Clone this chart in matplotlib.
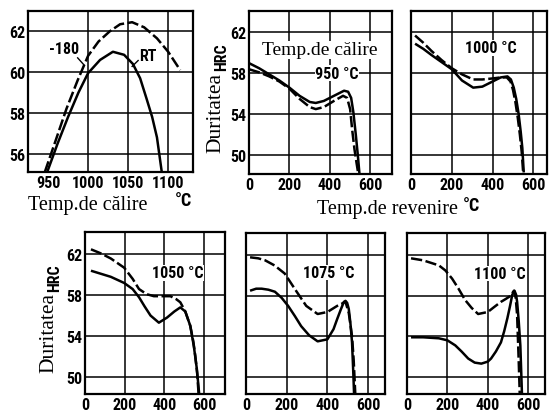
import matplotlib
matplotlib.use("Agg")
import matplotlib.pyplot as plt
from matplotlib import font_manager as fm

W, H = 549, 414
fig = plt.figure(figsize=(W / 100, H / 100), dpi=100)

SERIF = ['Liberation Serif', 'DejaVu Serif']


def find_narrow():
    cands = [('Roboto Condensed', 'normal'), ('Liberation Sans Narrow', 'normal'),
             ('Open Sans Condensed', 'normal'), ('Noto Sans', 'condensed'),
             ('DejaVu Sans', 'condensed'), ('Open Sans', 'condensed'),
             ('Roboto', 'condensed')]
    for fam, st in cands:
        try:
            path = fm.findfont(fm.FontProperties(family=fam, stretch=st, weight='bold'),
                               fallback_to_default=False)
        except Exception:
            continue
        low = path.lower()
        if 'condens' in low or 'narrow' in low:
            return path
    return None


NARROW_PATH = find_narrow()


def nfont(size):
    if NARROW_PATH:
        p = fm.FontProperties(fname=NARROW_PATH)
        p.set_size(size)
    else:
        p = fm.FontProperties(family='DejaVu Sans', weight='bold')
        p.set_size(size * 0.82)
    return p


TICK_SIZE = 11.5
LABEL_SIZE = 11.5

# ---------------- data ----------------
# Panel 1: hardness vs. hardening temperature
p1_x_dash = [946, 960, 973, 987, 1000, 1013, 1027, 1040, 1055, 1070, 1086, 1100, 1115]
p1_y_dash = [55.1, 56.7, 58.2, 59.6, 60.8, 61.5, 62.0, 62.35, 62.45, 62.2, 61.66, 61.0, 60.1]
p1_x_solid = [949, 962, 975, 988, 1000, 1015, 1031, 1045, 1056, 1065, 1073, 1080, 1086, 1092]
p1_y_solid = [55.1, 56.5, 57.8, 59.0, 59.95, 60.6, 61.0, 60.85, 60.4, 59.7, 58.7, 57.8, 56.8, 55.1]
p1_xticks = [950, 1000, 1050, 1100]
p1_yticks = [56, 58, 60, 62]

# Panels 2-6: hardness vs. tempering temperature
t_ticks = [0, 200, 400, 600]
hrc_ticks = [50, 54, 58, 62]

p2_x_solid = [0, 50, 100, 150, 200, 250, 300, 330, 370, 420, 470, 490, 505, 516, 528, 538, 546]
p2_y_solid = [59.0, 58.5, 57.9, 57.3, 56.6, 55.8, 55.2, 55.1, 55.3, 55.8, 56.3, 56.2, 55.6, 54.2, 52.0, 50.0, 48.2]
p2_x_dash = [0, 50, 100, 150, 200, 250, 300, 330, 370, 420, 465, 485, 500, 510, 522, 532, 540]
p2_y_dash = [58.4, 58.1, 57.7, 57.2, 56.5, 55.5, 54.7, 54.5, 54.7, 55.3, 55.8, 55.6, 54.5, 52.5, 50.5, 49.2, 48.2]

p3_x_solid = [20, 60, 100, 150, 200, 250, 305, 350, 400, 440, 473, 490, 504, 516, 528, 538, 546, 553]
p3_y_solid = [60.9, 60.4, 59.8, 59.1, 58.4, 57.3, 56.6, 56.7, 57.2, 57.6, 57.7, 57.4, 56.6, 55.5, 54.0, 52.3, 50.7, 48.3]
p3_x_dash = [20, 60, 100, 150, 200, 250, 305, 350, 400, 440, 470, 488, 500, 512, 524, 534, 543, 550]
p3_y_dash = [61.7, 61.0, 60.2, 59.3, 58.5, 57.9, 57.4, 57.4, 57.5, 57.6, 57.6, 57.2, 56.4, 55.2, 53.6, 52.0, 50.3, 48.3]

p4_x_solid = [30, 80, 130, 197, 240, 272, 300, 330, 372, 413, 450, 480, 505, 530, 548, 563, 575]
p4_y_solid = [60.4, 60.1, 59.8, 59.2, 58.6, 57.8, 56.9, 56.0, 55.3, 55.8, 56.4, 56.8, 56.4, 55.0, 53.0, 50.8, 48.3]
p4_x_dash = [30, 80, 130, 197, 240, 272, 310, 347, 390, 430, 460, 480, 505, 530, 545, 555, 565, 572]
p4_y_dash = [62.5, 62.1, 61.6, 60.7, 59.6, 58.6, 58.1, 57.9, 57.9, 57.9, 57.6, 57.3, 56.4, 55.0, 53.5, 52.1, 50.3, 48.3]

p5_x_solid = [20, 50, 77, 110, 142, 175, 207, 240, 271, 310, 352, 400, 430, 448, 465, 481, 489, 497, 505, 513, 521, 527, 531]
p5_y_solid = [58.5, 58.7, 58.7, 58.6, 58.4, 57.8, 57.0, 56.0, 55.0, 54.1, 53.5, 53.7, 54.7, 55.7, 56.6, 57.4, 57.5, 57.3, 56.7, 55.3, 53.4, 50.5, 48.3]
p5_x_dash = [20, 60, 94, 140, 190, 239, 296, 352, 400, 448, 489, 505, 521, 529, 537]
p5_y_dash = [61.8, 61.7, 61.5, 61.0, 60.2, 58.7, 57.0, 56.2, 56.4, 57.0, 57.4, 56.3, 54.0, 51.7, 48.3]

p6_x_solid = [20, 80, 158, 200, 239, 270, 303, 335, 368, 400, 416, 440, 465, 481, 497, 510, 521, 532, 540, 545, 553, 561, 569]
p6_y_solid = [53.9, 53.9, 53.8, 53.6, 53.1, 52.5, 51.8, 51.4, 51.3, 51.5, 51.8, 52.5, 53.4, 54.5, 55.8, 57.0, 58.1, 58.5, 58.1, 57.4, 55.5, 53.1, 48.3]
p6_x_dash = [20, 80, 158, 190, 223, 255, 287, 320, 352, 400, 432, 465, 490, 513, 529, 538, 545, 553, 558]
p6_y_dash = [61.7, 61.5, 61.0, 60.5, 59.7, 58.7, 57.6, 56.8, 56.2, 56.4, 56.9, 57.4, 57.7, 58.0, 58.5, 57.8, 56.1, 51.5, 48.3]

panel_labels = ["950 °C", "1000 °C", "1050 °C", "1075 °C", "1100 °C"]


# ---------------- helpers ----------------
def fpos(left, top, right, bottom):
    return [left / W, 1 - bottom / H, (right - left) / W, (bottom - top) / H]


def px(x, y):
    return x / W, 1 - y / H


def make_ax(rect, xlim, ylim, xticks, yticks, xgrid, ygrid, show_y=True):
    ax = fig.add_axes(rect)
    ax.set_xlim(*xlim)
    ax.set_ylim(*ylim)
    for s in ax.spines.values():
        s.set_linewidth(1.6)
        s.set_color('black')
    for gx in xgrid:
        ax.axvline(gx, color='black', lw=1.1, zorder=1)
    for gy in ygrid:
        ax.axhline(gy, color='black', lw=1.1, zorder=1)
    ax.set_xticks(xticks)
    ax.set_xticklabels([str(t) for t in xticks], fontproperties=nfont(TICK_SIZE))
    ax.set_yticks(yticks)
    if show_y:
        ax.set_yticklabels([str(t) for t in yticks], fontproperties=nfont(TICK_SIZE))
    else:
        ax.set_yticklabels([])
    ax.tick_params(length=0, pad=2)
    ax.tick_params(axis='x', pad=2.5)
    return ax


def curves(ax, xs, ys, xd, yd):
    ax.plot(xs, ys, color='black', lw=1.8, solid_capstyle='butt',
            solid_joinstyle='round', zorder=3)
    ax.plot(xd, yd, color='black', lw=1.8, dashes=(4.5, 1.4),
            dash_capstyle='butt', zorder=3)


def plabel(ax, x, y, s):
    ax.text(x, y, s, fontproperties=nfont(LABEL_SIZE), ha='center', va='center',
            zorder=4, bbox=dict(facecolor='white', edgecolor='none', pad=0.3))


# ---------------- panel 1 ----------------
ax1 = make_ax(fpos(28, 12, 193, 173), (925, 1131), (55.1, 63.0),
              p1_xticks, p1_yticks, [1000, 1050, 1100], p1_yticks)
curves(ax1, p1_x_solid, p1_y_solid, p1_x_dash, p1_y_dash)
ax1.text(951, 61.15, "-180", fontproperties=nfont(LABEL_SIZE),
         ha='left', va='center', zorder=4)
ax1.plot([987, 995], [60.7, 60.35], color='black', lw=1.0, zorder=4)
ax1.text(1064, 60.83, "RT", fontproperties=nfont(LABEL_SIZE),
         ha='left', va='center', zorder=4)
ax1.plot([1062.5, 1055], [60.57, 60.28], color='black', lw=1.0, zorder=4)

# ---------------- tempering panels ----------------
top_ylim = (48.15, 64.1)
bot_ylim = (48.3, 64.2)
grid_t = [200, 400, 600]

ax2 = make_ax(fpos(249, 12, 392, 175), (3, 707), top_ylim,
              t_ticks, hrc_ticks, grid_t, hrc_ticks)
curves(ax2, p2_x_solid, p2_y_solid, p2_x_dash, p2_y_dash)
ax2.text(350, 60.3, "Temp.de călire", fontfamily=SERIF, fontsize=14,
         ha='center', va='center', zorder=4,
         bbox=dict(facecolor='white', edgecolor='none', pad=0.5))
plabel(ax2, 435, 58.0, panel_labels[0])

ax3 = make_ax(fpos(411, 12, 547, 175), (12, 667), top_ylim,
              t_ticks, hrc_ticks, grid_t, hrc_ticks, show_y=False)
curves(ax3, p3_x_solid, p3_y_solid, p3_x_dash, p3_y_dash)
plabel(ax3, 393, 60.5, panel_labels[1])

ax4 = make_ax(fpos(85, 233, 225, 395), (5, 705), bot_ylim,
              t_ticks, hrc_ticks, grid_t, hrc_ticks)
curves(ax4, p4_x_solid, p4_y_solid, p4_x_dash, p4_y_dash)
plabel(ax4, 467, 60.2, panel_labels[2])

ax5 = make_ax(fpos(246, 234, 385, 395), (10, 683), bot_ylim,
              t_ticks, hrc_ticks, grid_t, hrc_ticks, show_y=False)
curves(ax5, p5_x_solid, p5_y_solid, p5_x_dash, p5_y_dash)
plabel(ax5, 404, 60.3, panel_labels[3])

ax6 = make_ax(fpos(407, 234, 545, 395), (15, 683), bot_ylim,
              t_ticks, hrc_ticks, grid_t, hrc_ticks, show_y=False)
curves(ax6, p6_x_solid, p6_y_solid, p6_x_dash, p6_y_dash)
plabel(ax6, 458, 60.2, panel_labels[4])

# ---------------- axis titles ----------------
fig.text(*px(28, 206), "Temp.de călire", fontfamily=SERIF, fontsize=14.5,
         ha='left', va='center')
fig.text(*px(184, 201), "°C", fontproperties=nfont(13), ha='center', va='center')
fig.text(*px(317, 210), "Temp.de revenire", fontfamily=SERIF, fontsize=14.5,
         ha='left', va='center')
fig.text(*px(471, 206), "°C", fontproperties=nfont(13), ha='center', va='center')

fig.text(*px(216, 113), "Duritatea", fontfamily=SERIF, fontsize=15.5,
         rotation=90, ha='center', va='center')
fig.text(*px(222, 57), "HRC", fontproperties=nfont(11.5),
         rotation=90, ha='center', va='center')
fig.text(*px(49, 333), "Duritatea", fontfamily=SERIF, fontsize=15.5,
         rotation=90, ha='center', va='center')
fig.text(*px(55, 278), "HRC", fontproperties=nfont(11.5),
         rotation=90, ha='center', va='center')

fig.savefig("out.png", dpi=100, facecolor='white')
